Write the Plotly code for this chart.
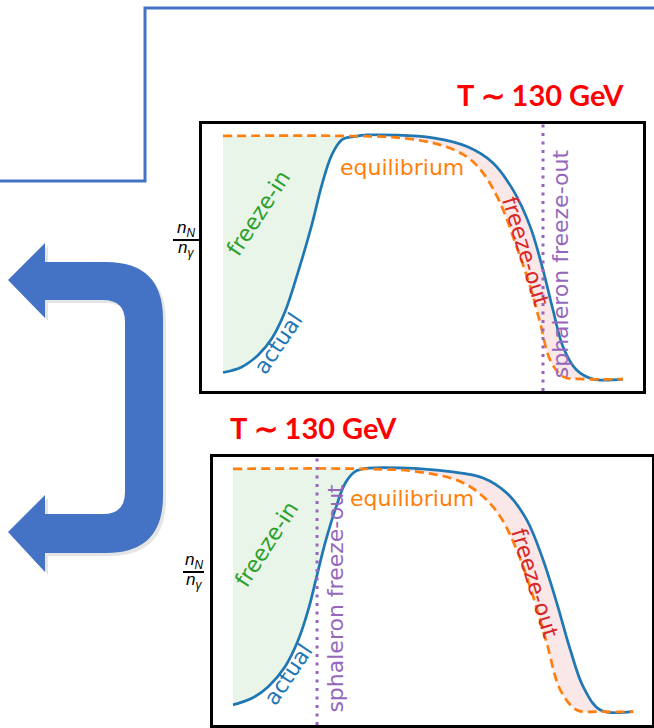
import plotly.graph_objects as go

# ---------------- data (schematic, arbitrary units) ----------------
# top panel: sphaleron freeze-out late
top_actual_x = [0, 0.47, 0.88, 1.22, 1.55, 1.88, 2.22, 2.47, 2.72, 2.97, 3.3, 3.6, 5.25, 6.1, 6.75, 7.25, 7.68, 8.0, 8.25, 8.5, 8.84, 9.25, 10]
top_actual_y = [0.027, 0.05, 0.099, 0.167, 0.277, 0.442, 0.634, 0.798, 0.922, 0.984, 0.998, 1.004, 0.992, 0.956, 0.889, 0.778, 0.627, 0.449, 0.284, 0.133, 0.037, 0.0, 0.0]
top_eq_x = [0, 3.0, 4.43, 5.43, 6.09, 6.5, 6.93, 7.34, 7.68, 7.93, 8.18, 8.5, 9.0, 10]
top_eq_y = [1, 1, 0.992, 0.963, 0.915, 0.848, 0.724, 0.544, 0.38, 0.23, 0.078, 0.01, 0, 0]
top_sphaleron_x = 8.0

# bottom panel: sphaleron freeze-out early
bot_actual_x = [0, 0.47, 0.88, 1.3, 1.63, 1.88, 2.09, 2.3, 2.55, 2.8, 3.05, 3.38, 4.18, 5.43, 6.25, 6.84, 7.34, 7.75, 8.09, 8.43, 8.75, 9.18, 10]
bot_actual_y = [0.028, 0.055, 0.103, 0.185, 0.295, 0.419, 0.556, 0.694, 0.83, 0.94, 0.989, 1.003, 1.004, 0.989, 0.963, 0.901, 0.79, 0.625, 0.448, 0.254, 0.103, 0.007, 0.0]
bot_eq_x = [0, 3.25, 4.59, 5.68, 6.25, 6.68, 7.09, 7.5, 7.84, 8.18, 8.59, 9.18, 10]
bot_eq_y = [1, 1, 0.989, 0.948, 0.886, 0.803, 0.666, 0.474, 0.283, 0.089, 0.007, 0, 0]
bot_sphaleron_x = 2.1

# split points between freeze-in (green) and freeze-out (pink) regions
top_split = 3.3
bot_split = 3.38

temperature_label = "T ∼ 130 GeV"

# ---------------- styles ----------------
W, H = 654, 728
BLUE = "#1f77b4"
ORANGE = "#ff7f0e"
GREEN = "#2ca02c"
RED = "#d62728"
PURPLE = "#9467bd"
FRAME = "#4472C4"
FONT = "DejaVu Sans"


def px(x):
    return x / W


def py(y):
    return 1 - y / H


fig = go.Figure()

ACT = {1: (top_actual_x, top_actual_y), 2: (bot_actual_x, bot_actual_y)}
TRI_Y = {1: 1.086, 2: 1.099}


def add_panel(idx, ex, ey, split, sph_x):
    xa = "x" if idx == 1 else "x2"
    ya = "y" if idx == 1 else "y2"
    axx, axy = ACT[idx]
    common = dict(xaxis=xa, yaxis=ya, hoverinfo="skip", showlegend=False)
    # green fill (freeze-in)
    ex1 = [x for x in ex if x <= split]
    ey1 = [y for x, y in zip(ex, ey) if x <= split]
    ax1 = [x for x in axx if x <= split]
    ay1 = [y for x, y in zip(axx, axy) if x <= split]
    fig.add_trace(go.Scatter(x=ex1, y=ey1, mode="lines", line=dict(width=0, shape="spline"), **common))
    fig.add_trace(go.Scatter(x=ax1, y=ay1, mode="lines", line=dict(width=0, shape="spline"),
                             fill="tonexty", fillcolor="rgba(44,160,44,0.11)", **common))
    # pink fill (freeze-out)
    ex2 = [x for x in ex if x >= split - 0.4]
    ey2 = [y for x, y in zip(ex, ey) if x >= split - 0.4]
    ax2 = [x for x in axx if x >= split]
    ay2 = [y for x, y in zip(axx, axy) if x >= split]
    fig.add_trace(go.Scatter(x=ex2, y=ey2, mode="lines", line=dict(width=0, shape="spline"), **common))
    fig.add_trace(go.Scatter(x=ax2, y=ay2, mode="lines", line=dict(width=0, shape="spline"),
                             fill="tonexty", fillcolor="rgba(214,39,40,0.11)", **common))
    # actual (blue)
    fig.add_trace(go.Scatter(x=axx, y=axy, mode="lines",
                             line=dict(color=BLUE, width=2.7, shape="spline"), **common))
    # equilibrium (orange dashed)
    fig.add_trace(go.Scatter(x=ex, y=ey, mode="lines",
                             line=dict(color=ORANGE, width=2.7, shape="spline", dash="9px,5px"), **common))
    # temperature marker triangle
    fig.add_trace(go.Scatter(x=[sph_x], y=[TRI_Y[idx]], mode="markers",
                             marker=dict(symbol="triangle-down", size=10, color="#ff0000"),
                             cliponaxis=False, **common))
    fig.add_shape(type="line", xref=xa, yref=f"{ya} domain", x0=sph_x, x1=sph_x, y0=0, y1=1,
                  line=dict(color=PURPLE, width=3, dash="3px,5.5px"))


add_panel(1, top_eq_x, top_eq_y, top_split, top_sphaleron_x)
add_panel(2, bot_eq_x, bot_eq_y, bot_split, bot_sphaleron_x)

axis_common = dict(showgrid=False, zeroline=False, showticklabels=False, ticks="",
                   showline=True, mirror=True, linecolor="black", linewidth=2.5)

fig.update_layout(
    width=W, height=H, margin=dict(l=0, r=0, t=0, b=0),
    paper_bgcolor="white", plot_bgcolor="white", showlegend=False,
    xaxis=dict(domain=[px(202), px(643)], range=[-0.525, 10.5], anchor="y", **axis_common),
    yaxis=dict(domain=[py(391), py(124)], range=[-0.049, 1.049], anchor="x", **axis_common),
    xaxis2=dict(domain=[px(213), px(652)], range=[-0.5, 10.47], anchor="y2", **axis_common),
    yaxis2=dict(domain=[py(725), py(457)], range=[-0.055, 1.049], anchor="x2", **axis_common),
)


# ---------------- text labels ----------------
def label(text, x, y, xref, yref, color, size=22, angle=0, family=FONT, bold=False):
    if bold:
        text = f"<b>{text}</b>"
    fig.add_annotation(text=text, x=x, y=y, xref=xref, yref=yref, showarrow=False,
                       textangle=angle, xanchor="center", yanchor="middle",
                       font=dict(family=family, size=size, color=color))


for (xa, ya, lab) in [("x", "y", dict(eq=(4.48, 0.872), fin=(0.875, 0.683), act=(1.375, 0.148),
                                      fout=(7.55, 0.527), sph=(8.43, 0.473))),
                      ("x2", "y2", dict(eq=(4.47, 0.88), fin=(0.84, 0.687), act=(1.375, 0.155),
                                        fout=(7.525, 0.53), sph=(2.55, 0.466)))]:
    label("equilibrium", *lab["eq"], xa, ya, ORANGE)
    label("freeze-in", *lab["fin"], xa, ya, GREEN, angle=-57)
    label("actual", *lab["act"], xa, ya, BLUE, angle=-56)
    label("freeze-out", *lab["fout"], xa, ya, RED, angle=73)
    label("sphaleron freeze-out", *lab["sph"], xa, ya, PURPLE, angle=-90)

# temperature labels
label(temperature_label, px(540), py(95), "paper", "paper", "#ff0000", size=29,
      family="Lato", bold=True)
label(temperature_label, px(313), py(427), "paper", "paper", "#ff0000", size=29,
      family="Lato", bold=True)

# y-axis fraction labels n_N / n_gamma
for cx, cy, x0, x1 in [(186, 229, 173, 199), (194, 561, 183, 204)]:
    label("<i>n</i><sub><i>N</i></sub>", px(cx), py(cy), "paper", "paper", "black", size=17,
          family="Liberation Sans")
    label("<i>n</i><sub><i>γ</i></sub>", px(cx), py(cy + 20), "paper", "paper", "black", size=17,
          family="Liberation Sans")
    fig.add_shape(type="line", xref="paper", yref="paper", x0=px(x0), x1=px(x1),
                  y0=py(cy + 11), y1=py(cy + 11), line=dict(color="black", width=2))

# ---------------- decorations ----------------
# blue frame line at top-left
frame_pts = [(0, 181), (145, 181), (145, 8), (654, 8)]
path = "M " + " L ".join(f"{px(a)},{py(b)}" for a, b in frame_pts)
fig.add_shape(type="path", xref="paper", yref="paper", path=path,
              line=dict(color=FRAME, width=3))


def arrow_path(dx=0, dy=0):
    cmds = [
        ("M", [(8, 280)]), ("L", [(45, 243)]), ("L", [(45, 262)]), ("L", [(106, 262)]),
        ("Q", [(163, 262), (163, 319)]), ("L", [(163, 496)]),
        ("Q", [(163, 553), (106, 553)]), ("L", [(45, 553)]), ("L", [(45, 572)]),
        ("L", [(8, 532)]), ("L", [(45, 495)]), ("L", [(45, 514)]), ("L", [(103, 514)]),
        ("Q", [(125, 514), (125, 492)]), ("L", [(125, 322)]),
        ("Q", [(125, 300), (103, 300)]), ("L", [(45, 300)]), ("L", [(45, 318)]),
    ]
    s = ""
    for c, pts in cmds:
        s += c + " " + " ".join(f"{px(a + dx)},{py(b + dy)}" for a, b in pts) + " "
    return s + "Z"


fig.add_shape(type="path", xref="paper", yref="paper", path=arrow_path(3, 3),
              fillcolor="rgba(0,0,0,0.10)", line=dict(width=0), layer="below")
fig.add_shape(type="path", xref="paper", yref="paper", path=arrow_path(),
              fillcolor=FRAME, line=dict(width=0))

fig.write_html("out.html", config={"displayModeBar": False},
               post_script="document.body.style.margin='0';document.body.style.overflow='hidden';")
